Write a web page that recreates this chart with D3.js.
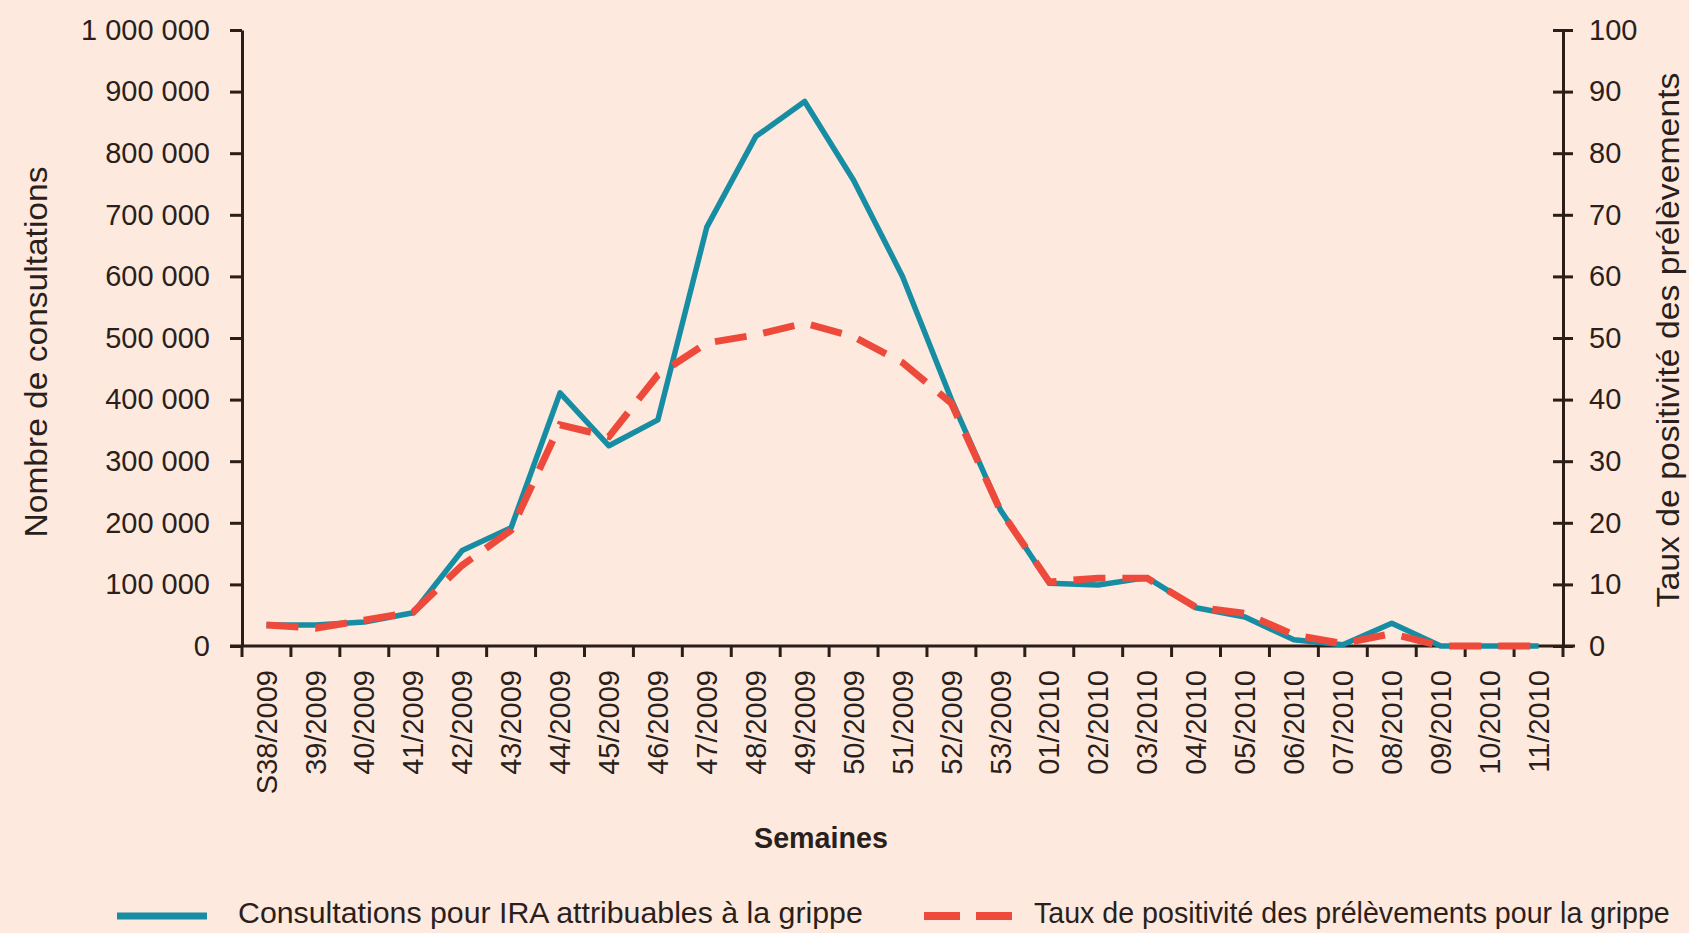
<!DOCTYPE html>
<html>
<head>
<meta charset="utf-8">
<script src="https://cdn.jsdelivr.net/npm/d3@7"></script>
<style>
  html, body { margin: 0; padding: 0; background: #fde9dd; }
  svg { display: block; }
  text { fill: #2a1f1c; }
</style>
</head>
<body>
<svg id="chart"></svg>
<script>
// weeks on the x axis
var weeks = ["S38/2009","39/2009","40/2009","41/2009","42/2009","43/2009","44/2009","45/2009",
  "46/2009","47/2009","48/2009","49/2009","50/2009","51/2009","52/2009","53/2009",
  "01/2010","02/2010","03/2010","04/2010","05/2010","06/2010","07/2010","08/2010",
  "09/2010","10/2010","11/2010"];

// consultations pour IRA attribuables a la grippe (left axis)
var consultations = [34000, 34000, 39000, 54000, 155000, 192000, 411000, 325000,
  367000, 680000, 827000, 884000, 756000, 600000, 400000, 221000,
  102000, 99000, 111000, 62000, 47000, 10000, 2000, 37000,
  0, 0, 0];

// taux de positivite des prelevements, % (right axis)
var positivite = [3.4, 2.9, 4.2, 5.5, 13.1, 18.8, 35.9, 34,
  44, 49.2, 50.5, 52.4, 50.2, 46, 39.4, 22,
  10.4, 11, 11, 6.3, 5.3, 1.8, 0.4, 2,
  0, 0, 0];

var leftTicks = [0, 100000, 200000, 300000, 400000, 500000, 600000, 700000, 800000, 900000, 1000000];
var rightTicks = [0, 10, 20, 30, 40, 50, 60, 70, 80, 90, 100];

var W = 1689, H = 933;
var p_ = {
  left: 242, right: 1563, top: 30, bottom: 646,
  teal: "#178da3", red: "#ee4a3b", axis: "#2b1d17",
  font: "'Liberation Sans Narrow', 'Liberation Sans', sans-serif",
  numFont: "'Liberation Sans', sans-serif"
};

var svg = d3.select("#chart").attr("width", W).attr("height", H);

svg.append("rect").attr("width", W).attr("height", H).attr("fill", "#fde9dd");

var x = d3.scaleBand().domain(weeks).range([p_.left, p_.right]);
var yL = d3.scaleLinear().domain([0, 1000000]).range([p_.bottom, p_.top]);
var yR = d3.scaleLinear().domain([0, 100]).range([p_.bottom, p_.top]);

var fmt = function(v){ return d3.format(",")(v).replace(/,/g, " "); };

// left axis
var gL = svg.append("g")
  .attr("transform", "translate(" + p_.left + ",0)")
  .call(d3.axisLeft(yL).tickValues(leftTicks).tickFormat(fmt).tickSize(12).tickPadding(20).tickSizeOuter(0));

// right axis, ticks cross the line
var gR = svg.append("g")
  .attr("transform", "translate(" + p_.right + ",0)")
  .call(d3.axisRight(yR).tickValues(rightTicks).tickSize(10).tickPadding(16).tickSizeOuter(0));
gR.selectAll(".tick line").attr("x1", -10);

// bottom axis: ticks on band edges
var gX = svg.append("g")
  .attr("transform", "translate(0," + p_.bottom + ")")
  .call(d3.axisBottom(x).tickSize(0).tickSizeOuter(0));
gX.select(".domain").attr("d", "M" + (p_.left - 12) + ",0H" + (p_.right + 12));
gX.selectAll(".edge")
  .data(d3.range(weeks.length + 1))
  .enter().append("line")
  .attr("class", "edge")
  .attr("x1", function(i){ return p_.left + i * x.step(); })
  .attr("x2", function(i){ return p_.left + i * x.step(); })
  .attr("y1", 0)
  .attr("y2", 11);
gX.selectAll(".tick text")
  .attr("transform", "rotate(-90)")
  .attr("x", -24)
  .attr("y", 0)
  .attr("dy", "0.35em")
  .attr("text-anchor", "end");

svg.selectAll(".domain, .tick line, .edge")
  .attr("stroke", p_.axis)
  .attr("stroke-width", 3);
svg.selectAll(".tick text")
  .attr("fill", "#2a1f1c")
  .style("font-family", p_.numFont)
  .style("font-size", "29px");

var cx = function(d, i){ return x(weeks[i]) + x.bandwidth() / 2; };

// consultations line
svg.append("path")
  .datum(consultations)
  .attr("fill", "none")
  .attr("stroke", p_.teal)
  .attr("stroke-width", 5.5)
  .attr("stroke-linejoin", "round")
  .attr("d", d3.line().x(cx).y(function(d){ return yL(d); }));

// positivity line, dashed, drawn on top
svg.append("path")
  .datum(positivite)
  .attr("fill", "none")
  .attr("stroke", p_.red)
  .attr("stroke-width", 7)
  .attr("stroke-dasharray", "32,17")
  .attr("d", d3.line().x(cx).y(function(d){ return yR(d); }));

// draw at natural size, then scale horizontally to the width seen in the
// picture (place = "translate(..) rotate(..)")
function label(txt, len, size, place, anchor, weight){
  var t = svg.append("text")
    .style("font-family", p_.font)
    .style("font-size", size + "px")
    .style("font-weight", weight || "normal")
    .attr("text-anchor", anchor || "start")
    .text(txt);
  var k = len / t.node().getComputedTextLength();
  t.attr("transform", place + " scale(" + k + ",1)");
  return t;
}

// axis titles
label("Nombre de consultations", 371, 31, "translate(36,352) rotate(-90)", "middle").attr("dy", "0.35em");
label("Taux de positivité des prélèvements", 535, 31, "translate(1668,340) rotate(-90)", "middle").attr("dy", "0.35em");
label("Semaines", 134, 30, "translate(821,848)", "middle", "bold");

// legend
svg.append("line")
  .attr("x1", 117).attr("x2", 207).attr("y1", 916).attr("y2", 916)
  .attr("stroke", p_.teal).attr("stroke-width", 7);
label("Consultations pour IRA attribuables à la grippe", 625, 30, "translate(238,923)");
svg.append("line")
  .attr("x1", 924).attr("x2", 1018).attr("y1", 916).attr("y2", 916)
  .attr("stroke", p_.red).attr("stroke-width", 8)
  .attr("stroke-dasharray", "36,16");
label("Taux de positivité des prélèvements pour la grippe", 636, 30, "translate(1034,923)");
</script>
</body>
</html>
